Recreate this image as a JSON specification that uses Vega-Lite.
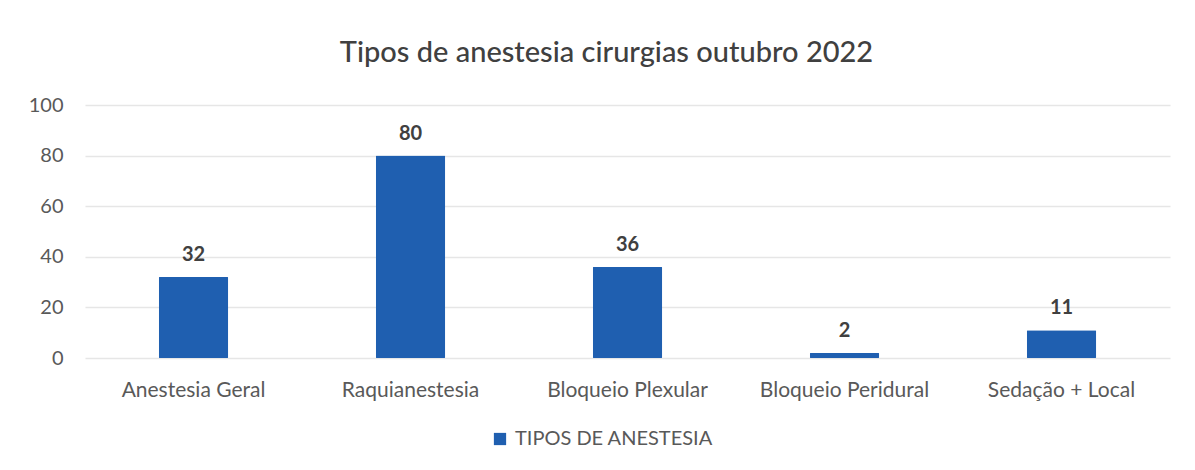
{
  "$schema": "https://vega.github.io/schema/vega-lite/v6.json",
  "autosize": {"type": "none"},
  "width": 1085,
  "height": 253,
  "padding": {"left": 85, "top": 105, "right": 25, "bottom": 112},
  "background": "#ffffff",
  "config": {"font": "Lato", "view": {"stroke": null}},
  "title": {"text": "Tipos de anestesia cirurgias outubro 2022", "fontSize": 29, "fontWeight": 500, "color": "#404040", "font": "Lato", "offset": 27, "anchor": "middle", "dx": -21},
  "data": {"values": [
    {"tipo": "Anestesia Geral", "n": 32, "serie": "TIPOS DE ANESTESIA"},
    {"tipo": "Raquianestesia", "n": 80, "serie": "TIPOS DE ANESTESIA"},
    {"tipo": "Bloqueio Plexular", "n": 36, "serie": "TIPOS DE ANESTESIA"},
    {"tipo": "Bloqueio Peridural", "n": 2, "serie": "TIPOS DE ANESTESIA"},
    {"tipo": "Sedação + Local", "n": 11, "serie": "TIPOS DE ANESTESIA"}
  ]},
  "encoding": {
    "x": {"field": "tipo", "type": "nominal", "sort": null,
      "scale": {"paddingInner": 0.68, "paddingOuter": 0.34},
      "axis": {"title": null, "labelAngle": 0, "labelFontSize": 21, "labelColor": "#595959", "labelPadding": 21, "labelLimit": 300, "domain": false, "ticks": false}},
    "y": {"field": "n", "type": "quantitative",
      "scale": {"domain": [0, 100]},
      "axis": {"title": null, "values": [0, 20, 40, 60, 80, 100], "labelFontSize": 20, "labelColor": "#595959", "labelPadding": 22, "domain": false, "ticks": false, "gridColor": "#e6e6e6", "gridWidth": 1.5}}
  },
  "layer": [
    {"mark": {"type": "bar", "cornerRadius": 1},
     "encoding": {"color": {"field": "serie", "type": "nominal", "scale": {"range": ["#1f5fb0"]},
       "legend": {"title": null, "orient": "none", "legendX": 405, "legendY": 324, "labelFontSize": 20, "labelLimit": 400, "labelColor": "#595959", "symbolType": "square", "symbolSize": 150, "symbolStrokeWidth": 0, "labelOffset": 5}}}},
    {"mark": {"type": "text", "dy": -22, "fontSize": 20, "fontWeight": "bold", "color": "#404040"},
     "encoding": {"text": {"field": "n", "type": "quantitative"}}}
  ]
}
